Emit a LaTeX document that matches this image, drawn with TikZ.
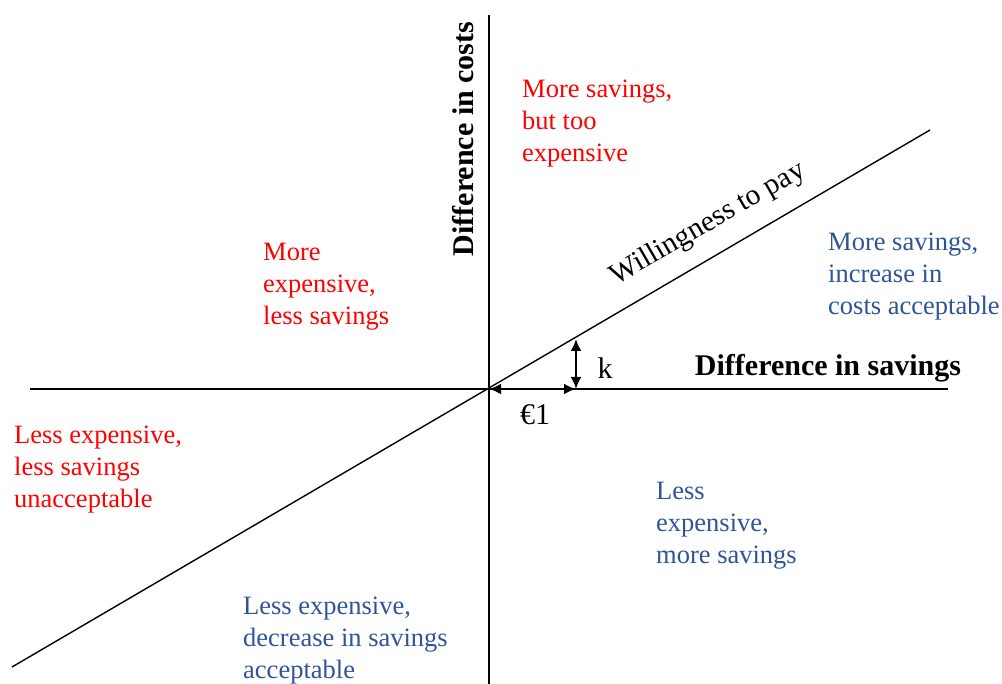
\documentclass[tikz,border=0pt]{standalone}
\usepackage{fontspec}
\setmainfont{Liberation Serif}
\usetikzlibrary{arrows.meta}
\definecolor{qblue}{RGB}{47,85,151}
\definecolor{qred}{RGB}{255,0,0}
\tikzset{
  lbl/.style={anchor=west,align=left,inner sep=0pt,font=\fontsize{26.5}{32}\selectfont},
  redlbl/.style={lbl,text=qred},
  bluelbl/.style={lbl,text=qblue},
  axtitle/.style={inner sep=0pt,font=\fontsize{30}{34}\selectfont\bfseries},
  plain/.style={inner sep=0pt,font=\fontsize{30}{34}\selectfont},
  axis/.style={line width=2pt,black},
  wtp/.style={line width=1.4pt,black},
  dimarrow/.style={line width=2.8pt,{Latex[length=12pt,width=11pt]}-{Latex[length=12pt,width=11pt]}}
}
\begin{document}
\begin{tikzpicture}[x=1pt,y=-1pt]
\useasboundingbox (0,0) rectangle (1002,684);
% axes
\coordinate (xl) at (30,389);
\coordinate (xr) at (948,389);
\coordinate (yt) at (489,15);
\coordinate (yb) at (489,684);
\coordinate (O) at (489,389);
\coordinate (wl) at (12,667);
\coordinate (wr) at (930,130);
\coordinate (e1) at (576,389);
\coordinate (kt) at (576,339);
\draw[axis] (xl) -- (xr);
\draw[axis] (yt) -- (yb);
\draw[wtp] (wl) -- (wr);
\draw[dimarrow] (O) -- (e1);
\draw[dimarrow] (kt) -- (e1);
% labels
\node[axtitle] (xt) at (828,368) {Difference in savings};
\node[axtitle,rotate=90] (ytl) at (463,139) {Difference in costs};
\node[plain,font=\fontsize{29.5}{34}\selectfont,rotate=30] (wtpl) at (708,224) {Willingness to pay};
\node[plain] (k) at (605,368) {k};
\node[plain] (eur) at (535,415) {€1};
% quadrant texts
\node[redlbl] (q1) at (522,124) {More savings,\\but too\\expensive};
\node[redlbl] (q2) at (263,287) {More\\expensive,\\less savings};
\node[bluelbl] (q3) at (828,277) {More savings,\\increase in\\costs acceptable};
\node[redlbl] (q4) at (14,470) {Less expensive,\\less savings\\unacceptable};
\node[bluelbl] (q5) at (656,526) {Less\\expensive,\\more savings};
\node[bluelbl] (q6) at (243,641) {Less expensive,\\decrease in savings\\acceptable};
\end{tikzpicture}
\end{document}
